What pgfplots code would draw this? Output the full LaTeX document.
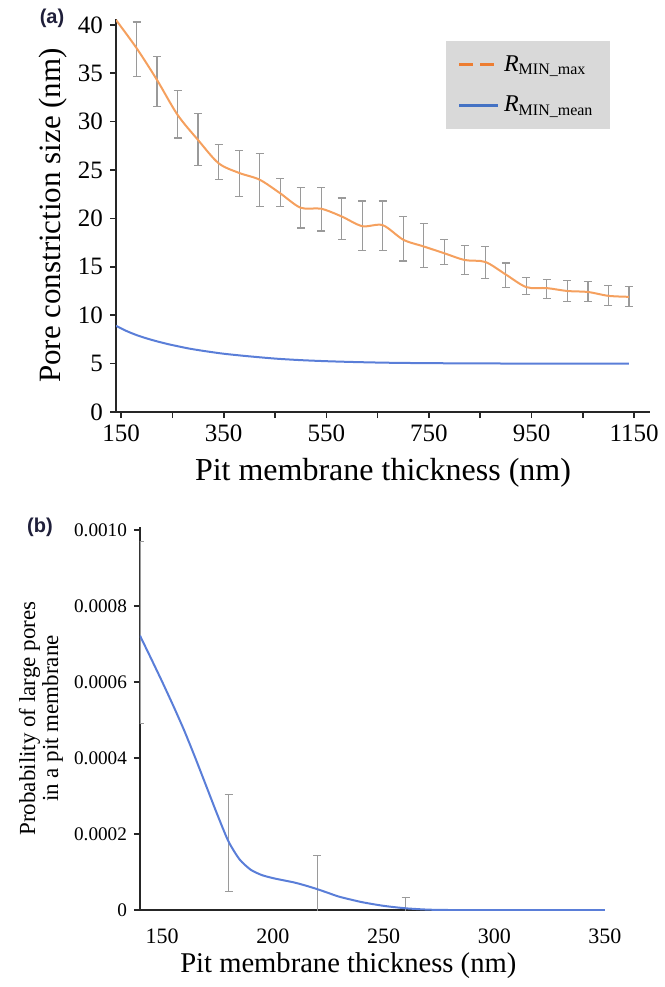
\documentclass[border=0pt]{standalone}
\usepackage{pgfplots}
\usepackage{pgfplotstable}
\pgfplotsset{compat=1.18}
\usepackage{fontspec}
\setmainfont{Liberation Serif}
\newfontfamily\panelfont{Liberation Sans}
\definecolor{orangeline}{HTML}{F5A05E}
\definecolor{orangeleg}{HTML}{ED7D31}
\definecolor{blueline}{HTML}{5A7ED8}
\definecolor{blueleg}{HTML}{4472C4}
\definecolor{errgray}{HTML}{9A9A9A}
\definecolor{legfill}{HTML}{D9D9D9}
\definecolor{panelcol}{HTML}{1F1F3A}

\pgfplotstableread{
x y
140 40.5
180 37.6
220 34.3
260 30.7
300 28.1
340 25.7
380 24.7
420 24.0
460 22.6
500 21.1
540 21.0
580 20.2
620 19.2
660 19.3
700 17.8
740 17.1
780 16.4
820 15.7
860 15.5
900 14.2
940 12.9
980 12.8
1020 12.5
1060 12.4
1100 12.0
1140 11.9
}\maxline

\pgfplotstableread{
x y ep em
180 37.6 2.7 2.9
220 34.3 2.4 2.7
260 30.7 2.5 2.4
300 28.1 2.7 2.6
340 25.7 1.9 1.7
380 24.7 2.3 2.4
420 24.0 2.7 2.8
460 22.6 1.5 1.4
500 21.1 2.1 2.1
540 21.0 2.2 2.3
580 20.2 1.9 2.4
620 19.2 2.6 2.5
660 19.3 2.5 2.6
700 17.8 2.4 2.2
740 17.1 2.4 2.2
780 16.4 1.4 1.2
820 15.7 1.5 1.5
860 15.5 1.6 1.7
900 14.2 1.2 1.3
940 12.9 1.0 0.8
980 12.8 0.9 1.1
1020 12.5 1.1 1.1
1060 12.4 1.1 1.0
1100 12.0 1.1 1.0
1140 11.9 1.1 1.0
}\maxerr

\pgfplotstableread{
x y
140 8.9
160 8.38
180 7.95
200 7.6
220 7.3
240 7.03
260 6.8
280 6.58
300 6.4
325 6.2
350 6.02
375 5.88
400 5.75
450 5.52
500 5.36
550 5.25
600 5.17
650 5.11
700 5.07
800 5.03
900 5.01
1000 5.0
1140 5.0
}\meanline

\pgfplotstableread{
x y
140 0.000722
145 0.000662
150 0.000601
155 0.000538
160 0.000472
165 0.000400
170 0.000325
175 0.000250
180 0.000180
185 0.000133
190 0.000106
195 0.000092
200 0.000084
205 0.000078
210 0.000072
215 0.000064
220 0.000055
225 0.000045
230 0.000035
240 0.000021
250 0.000011
260 0.0000045
270 0.000001
280 0
300 0
350 0
}\probline

\pgfplotstableread{
x y ep em
140 0.00073 0.00024 0.00024
180 0.000176 0.000128 0.000128
220 0.000054 0.00009 0.00009
260 0.0000045 0.000028 0.000028
}\proberr

\begin{document}
\begin{tikzpicture}
\path[use as bounding box] (0,0) rectangle (332.5pt,-493.5pt);

\begin{axis}[
  anchor=south west, at={(58pt,-206pt)},
  scale only axis, width=267pt, height=196.5pt,
  xmin=140, xmax=1181, ymin=0, ymax=40.6,
  axis x line=bottom, axis y line=left,
  axis line style={-, line width=0.9pt, black!85},
  xtick={150,250,...,1150},
  xticklabels={150,,350,,550,,750,,950,,1150},
  ytick={0,5,...,40},
  tick align=outside, major tick length=3pt,
  tick style={black!85, line width=0.8pt},
  tick label style={font=\fontsize{12.5}{14}\selectfont},
  /pgf/number format/assume math mode=true,
  xlabel={Pit membrane thickness (nm)},
  xlabel style={font=\fontsize{16}{18}\selectfont, at={(axis description cs:0.5,-0.155)}, anchor=center},
  ylabel={Pore constriction size (nm)},
  ylabel style={font=\fontsize{15.5}{18}\selectfont, at={(axis description cs:-0.118,0.5)}, anchor=center},
  legend style={at={(axis description cs:0.617,0.944)}, anchor=north west,
    fill=legfill, draw=none, font=\fontsize{12}{14}\selectfont,
    row sep=7pt, inner xsep=6pt, inner ysep=5pt},
  legend cell align=left,
  legend image code/.code={\draw[#1] (0pt,0pt) -- (19.5pt,0pt);},
]
\addlegendimage{orangeleg, line width=1.6pt, dash pattern=on 7pt off 3.5pt}
\addlegendentry{\textit{R}\textsubscript{MIN\_max}}
\addlegendimage{blueleg, line width=1.6pt}
\addlegendentry{\textit{R}\textsubscript{MIN\_mean}}

\addplot[forget plot, draw=none, mark=none,
  error bars/.cd, y dir=both, y explicit,
  error bar style={draw=errgray, line width=0.6pt},
  error mark options={rotate=90, draw=errgray, mark size=2pt, line width=0.6pt}]
  table[x=x, y=y, y error plus=ep, y error minus=em] {\maxerr};
\addplot[forget plot, orangeline, line width=1pt, smooth, tension=0.5, mark=none] table[x=x,y=y] {\maxline};
\addplot[forget plot, blueline, line width=1pt, smooth, mark=none] table[x=x,y=y] {\meanline};
\end{axis}
\node[font=\panelfont\bfseries\fontsize{10}{12}\selectfont, text=panelcol] at (26pt,-9pt) {(a)};

\begin{axis}[
  anchor=south west, at={(70pt,-455pt)},
  scale only axis, width=232.5pt, height=191.5pt,
  xmin=140, xmax=350, ymin=0, ymax=0.001008,
  axis x line=bottom, axis y line=left,
  axis line style={-, line width=0.9pt, black!85},
  xtick={150,200,...,350},
  ytick={0,0.0002,0.0004,0.0006,0.0008,0.0010},
  yticklabels={0,0.0002,0.0004,0.0006,0.0008,0.0010},
  scaled y ticks=false,
  tick align=outside, major tick length=3pt,
  xtick style={draw=none},
  ytick style={black!85, line width=0.8pt},
  xticklabel style={font=\fontsize{11}{13}\selectfont, yshift=-3pt},
  yticklabel style={font=\fontsize{9.6}{11}\selectfont},
  /pgf/number format/assume math mode=true,
  xlabel={Pit membrane thickness (nm)},
  xlabel style={font=\fontsize{14.3}{16}\selectfont, at={(axis description cs:0.448,-0.146)}, anchor=center},
  ylabel={Probability of large pores\\in a pit membrane},
  ylabel style={font=\fontsize{11.5}{11.5}\selectfont, align=center, at={(axis description cs:-0.213,0.5)}, anchor=center},
]
\addplot[draw=none, mark=none,
  error bars/.cd, y dir=both, y explicit,
  error bar style={draw=errgray, line width=0.6pt},
  error mark options={rotate=90, draw=errgray, mark size=2pt, line width=0.6pt}]
  table[x=x, y=y, y error plus=ep, y error minus=em] {\proberr};
\addplot[blueline, line width=1pt, smooth, tension=0.4, mark=none] table[x=x,y=y] {\probline};
\end{axis}
\node[font=\panelfont\bfseries\fontsize{10}{12}\selectfont, text=panelcol] at (20pt,-263.5pt) {(b)};
\end{tikzpicture}
\end{document}
